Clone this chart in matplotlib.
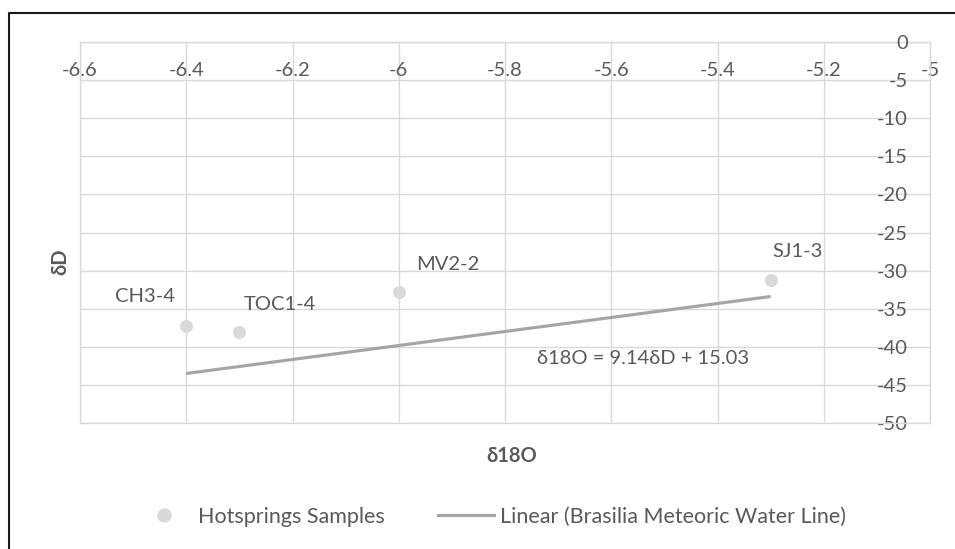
import matplotlib.pyplot as plt
from matplotlib.lines import Line2D

# Sample values
sample_names = ['CH3-4', 'TOC1-4', 'MV2-2', 'SJ1-3']
d18o = [-6.4, -6.3, -6.0, -5.3]
dD = [-37.3, -38.0, -32.8, -31.2]

# Brasilia meteoric water line (trend line end points)
line_x = [-6.4, -5.3]
line_y = [-43.5, -33.4]

x_ticks = [-6.6, -6.4, -6.2, -6.0, -5.8, -5.6, -5.4, -5.2, -5.0]
x_labels = ['-6.6', '-6.4', '-6.2', '-6', '-5.8', '-5.6', '-5.4', '-5.2', '-5']
y_ticks = [0, -5, -10, -15, -20, -25, -30, -35, -40, -45, -50]

TEXT = '#595959'
GRID = '#d9d9d9'
FS = 14.5

plt.rcParams['font.family'] = ['Lato', 'DejaVu Sans']
plt.rcParams['axes.unicode_minus'] = False

fig = plt.figure(figsize=(9.55, 5.49), dpi=100)
ax = fig.add_axes([80 / 955, 1 - 423 / 549, 850 / 955, 381 / 549])
ax.set_xlim(-6.6, -5)
ax.set_ylim(-50, 0)

for s in ax.spines.values():
    s.set_color(GRID)
    s.set_linewidth(1)

ax.set_xticks(x_ticks)
ax.set_xticklabels(x_labels)
ax.set_yticks(y_ticks)
ax.grid(True, color=GRID, linewidth=1)
ax.set_axisbelow(True)

# x labels sit on the -5 gridline, y labels inside the right edge
ax.xaxis.set_ticks_position('top')
ax.spines['top'].set_position(('data', -5))
ax.spines['top'].set_visible(False)
ax.axhline(0, color=GRID, linewidth=1, clip_on=False, zorder=0)
ax.tick_params(axis='x', length=0, pad=1, labelsize=FS, labelcolor=TEXT)
ax.yaxis.set_ticks_position('right')
ax.tick_params(axis='y', length=0, pad=-15.8, labelsize=FS, labelcolor=TEXT)
for lab in ax.get_yticklabels():
    lab.set_ha('right')

ax.plot(line_x, line_y, color='#a5a5a5', linewidth=2.25, solid_capstyle='butt', zorder=2)
ax.scatter(d18o, dD, s=88, color=GRID, zorder=3, linewidths=0)

offsets = {'CH3-4': (-29.5, 21.6), 'TOC1-4': (29.5, 19.4), 'MV2-2': (35.3, 19.4), 'SJ1-3': (19.4, 20.2)}
for name, x, y in zip(sample_names, d18o, dD):
    ax.annotate(name, (x, y), xytext=offsets[name], textcoords='offset points',
                ha='center', va='center', fontsize=FS, color=TEXT)

ax.text(-5.54, -41.5, 'δ18O = 9.14δD + 15.03', ha='center', va='center', fontsize=FS, color=TEXT)

fig.text(60 / 955, 1 - 262 / 549, 'δD', rotation=90, ha='center', va='center',
         fontsize=FS, fontweight='bold', color=TEXT)
fig.text(512 / 955, 1 - 456 / 549, 'δ18O', ha='center', va='center',
         fontsize=FS, fontweight='bold', color=TEXT)

handles = [
    Line2D([], [], linestyle='none', marker='o', markersize=9.4, color=GRID),
    Line2D([], [], color='#a5a5a5', linewidth=2.25),
]
fig.legend(handles, ['Hotsprings Samples', 'Linear (Brasilia Meteoric Water Line)'],
           loc='center', bbox_to_anchor=(491 / 955, 1 - 517 / 549), ncol=2, frameon=False,
           fontsize=15.5, labelcolor=TEXT, handlelength=2.6, handletextpad=0.28,
           columnspacing=2.45)

# outer chart border (left and top)
fig.add_artist(Line2D([9 / 955, 9 / 955, 1], [0, 1 - 13 / 549, 1 - 13 / 549],
                      color='#1a1a1a', linewidth=1.5))

fig.savefig('out.png', dpi=100)
